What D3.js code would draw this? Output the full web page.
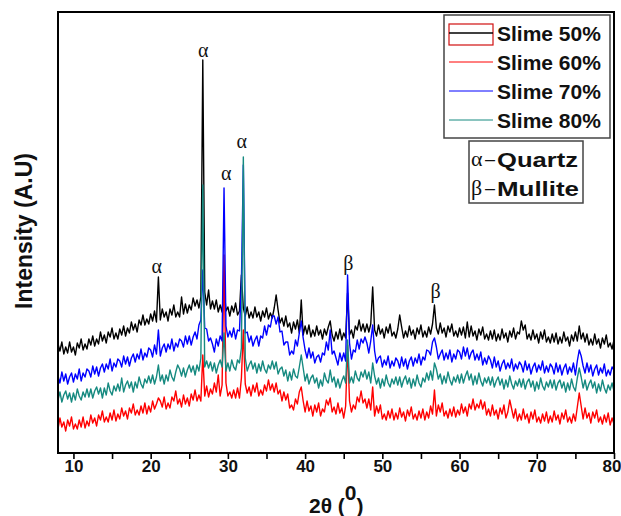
<!DOCTYPE html>
<html>
<head>
<meta charset="utf-8">
<script src="https://cdn.jsdelivr.net/npm/d3@7"></script>
<style>
  body { margin: 0; background: #fff; }
  svg { display: block; font-family: "Liberation Sans", Arial, sans-serif; }
</style>
</head>
<body>
<div class="xrdChart"></div>
<script>
// 2θ sampling of the scans: 8° .. 80°, every 0.25°
var thetaStart = 8;
var thetaStep = 0.25;

// intensities (a.u.), one row per degree (4 samples), last value = 80°
var slime50 = [
  109,102,111,99, 106,100,111,101, 106,98,110,105, 114,103,109,104,
  114,108,117,107, 114,109,121,112, 118,110,121,116, 125,114,120,114,
  124,118,127,117, 125,120,131,123, 129,121,133,128, 138,128,134,129,
  139,132,142,131, 176,133,144,136, 141,132,144,138, 148,136,141,136,
  156,139,149,140, 148,143,155,147, 153,145,156,393, 161,148,163,144,
  152,144,153,141, 148,141,168,142, 146,137,147,141, 150,138,142,178,
  145,137,146,135, 141,135,146,136, 141,132,142,136, 145,134,140,135,
  145,158,143,130, 135,127,137,126, 130,120,131,124, 133,120,153,118,
  127,119,128,116, 123,117,127,118, 123,114,124,118, 126,132,118,112,
  121,114,124,113, 120,115,160,118, 123,115,127,123, 133,122,129,121,
  129,121,129,166, 123,117,128,119, 124,115,126,120, 129,117,121,115,
  124,138,126,115, 122,116,127,118, 123,114,125,119, 128,116,122,116,
  126,119,129,148, 125,119,130,120, 125,116,127,121, 129,117,122,116,
  125,118,126,115, 131,116,127,117, 122,113,124,118, 126,114,119,113,
  122,114,123,112, 119,113,124,115, 120,111,122,116, 125,114,121,119,
  132,123,128,114, 119,113,123,114, 119,110,121,114, 123,111,116,110,
  119,111,120,109, 116,110,121,112, 116,107,118,112, 121,112,127,114,
  120,111,119,108, 114,108,119,109, 114,105,115,109, 118,106,110,104,
  113
];
var slime60 = [
  24,35,26,31, 22,33,27,36, 24,29,24,33, 26,36,25,32,
  27,38,30,35, 27,38,33,42, 31,36,31,40, 33,43,32,39,
  34,45,37,42, 34,45,40,49, 38,43,38,47, 40,50,39,47,
  41,52,44,49, 55,52,46,56, 44,50,45,56, 52,62,49,54,
  46,58,49,55, 47,59,53,63, 52,58,52,98, 57,67,56,64,
  59,70,61,78, 57,68,198,70, 57,61,55,63, 55,65,55,75,
  123,69,60,66, 57,68,61,70, 57,63,58,68, 62,73,63,69,
  61,70,59,63, 52,61,53,59, 45,48,43,54, 49,61,66,52,
  41,52,42,47, 37,48,41,50, 37,44,41,53, 48,55,41,46,
  39,50,40,45, 35,47,108,52, 41,48,44,56, 51,62,50,54,
  45,54,43,66, 37,47,40,48, 34,39,33,42, 35,44,33,40,
  34,45,36,41, 32,43,37,46, 34,39,33,42, 35,44,33,41,
  35,47,39,63, 37,48,41,50, 37,42,35,44, 37,46,36,43,
  38,49,40,46, 37,49,44,54, 43,49,45,53, 44,51,38,44,
  37,48,38,43, 34,45,39,48, 35,41,53,44, 35,44,32,39,
  33,44,34,39, 30,41,34,43, 31,36,30,39, 32,41,30,37,
  31,42,33,38, 29,40,34,43, 31,36,30,39, 32,46,60,47,
  34,45,35,40, 30,41,35,43, 31,36,29,38, 31,40,28,35,
  29
];
var slime70 = [
  77,70,81,72, 79,69,76,80, 71,79,74,84, 72,80,76,84,
  82,76,87,79, 86,77,85,89, 81,89,84,94, 82,90,86,94,
  92,86,97,89, 96,87,95,99, 91,99,94,104, 93,100,96,105,
  103,96,108,99, 123,97,105,109, 101,109,104,114, 102,110,106,114,
  112,106,117,109, 117,108,116,121, 114,128,133,183, 125,124,112,115,
  109,101,114,107, 117,112,265,127, 116,122,116,125, 114,123,122,170,
  288,120,121,111, 117,107,113,117, 107,117,115,127, 118,128,126,137,
  137,129,136,121, 122,108,111,111, 98,102,99,113, 107,120,132,115,
  103,95,105,95, 101,90,96,98, 91,100,98,111, 103,123,99,102,
  95,88,100,92, 100,92,178,110, 94,103,101,113, 104,114,110,116,
  110,100,112,128, 102,90,95,97, 86,93,88,97, 85,92,87,95,
  92,85,96,87, 94,84,92,96, 87,95,90,99, 88,96,93,103,
  102,98,111,115, 106,94,99,103, 93,100,94,103, 91,99,94,103,
  101,94,106,97, 105,94,100,103, 93,99,93,101, 88,95,89,97,
  93,85,96,86, 92,82,89,93, 84,90,85,94, 82,89,84,91,
  88,81,92,83, 89,79,86,90, 81,88,83,92, 80,87,81,89,
  86,79,90,81, 88,78,85,89, 79,86,81,90, 78,92,103,97,
  87,80,90,81, 88,77,84,88, 78,85,80,89, 77,83,78,86,
  83
];
var slime80 = [
  53,61,51,58, 62,54,60,51, 60,53,64,57, 53,61,56,64,
  56,64,55,62, 66,59,65,55, 65,58,70,62, 58,67,62,69,
  62,75,61,68, 72,65,71,61, 71,65,76,69, 65,74,70,77,
  70,78,69,76, 88,72,78,69, 78,72,83,76, 72,81,88,84,
  77,85,76,83, 88,81,87,78, 88,82,95,268, 86,92,85,91,
  82,90,80,88, 93,86,120,82, 90,82,93,86, 83,93,90,105,
  296,95,82,88, 92,84,90,80, 89,82,92,84, 80,88,84,92,
  84,91,79,84, 86,77,83,72, 81,73,84,77, 75,86,98,85,
  72,79,69,75, 78,70,75,65, 73,67,80,73, 70,83,71,76,
  66,74,65,72, 77,70,113,70, 76,70,82,75, 72,81,76,83,
  74,81,70,90, 77,69,75,65, 74,67,78,70, 66,74,69,76,
  68,76,66,73, 77,69,75,65, 74,67,78,70, 66,75,71,80,
  73,82,73,90, 84,74,79,69, 77,70,81,73, 68,76,71,78,
  70,79,70,77, 82,73,79,68, 77,69,80,72, 67,75,70,76,
  68,76,66,72, 76,68,74,64, 73,66,77,69, 64,72,67,74,
  66,74,64,71, 74,66,72,62, 71,64,75,67, 63,71,66,73,
  65,73,63,70, 73,65,71,61, 70,63,74,66, 62,75,85,76,
  65,73,63,69, 73,65,71,60, 69,62,73,65, 60,68,63,70,
  62
];

var seriesNames = ["Slime 50%", "Slime 60%", "Slime 70%", "Slime 80%"];
var seriesColors = ["#000000", "#ff0000", "#0000ff", "#168a80"];

var xTicks = [10, 20, 30, 40, 50, 60, 70, 80];
var xMinorTicks = [15, 25, 35, 45, 55, 65, 75];

// phase markers over the peaks
var peakSymbols = ["α", "α", "α", "α", "β", "β"];
var peakTheta = [20.8, 26.8, 29.8, 31.8, 45.6, 56.9];
var peakLevel = [185, 401, 278, 310, 188, 160];

var phaseSymbols = ["α", "β"];
var phaseNames = ["Quartz", "Mullite"];

// canvas
var width = 621;
var height = 516;
var plot = { left: 58, right: 614, top: 12, bottom: 453 };

var svg = d3
  .select(".xrdChart")
  .append("svg")
  .attr("width", width)
  .attr("height", height)
  .style("background-color", "#fff");

// scales
var xScale = d3.scaleLinear().domain([8, 80]).range([plot.left, plot.right]);
var yScale = d3.scaleLinear().domain([0, 441]).range([plot.bottom, plot.top]);

svg
  .append("clipPath")
  .attr("id", "plotClip")
  .append("rect")
  .attr("x", plot.left)
  .attr("y", plot.top)
  .attr("width", plot.right - plot.left)
  .attr("height", plot.bottom - plot.top);

// scans
var line = d3
  .line()
  .x((d, i) => xScale(thetaStart + i * thetaStep))
  .y((d) => yScale(d));

svg
  .append("g")
  .attr("clip-path", "url(#plotClip)")
  .selectAll("path")
  .data([slime50, slime60, slime70, slime80])
  .enter()
  .append("path")
  .attr("d", line)
  .attr("fill", "none")
  .attr("stroke", (d, i) => seriesColors[i])
  .attr("stroke-width", 1.4)
  .attr("stroke-linejoin", "round");

// frame
svg
  .append("rect")
  .attr("x", plot.left)
  .attr("y", plot.top)
  .attr("width", plot.right - plot.left)
  .attr("height", plot.bottom - plot.top)
  .attr("fill", "none")
  .attr("stroke", "#000")
  .attr("stroke-width", 2);

// x axis (major + minor)
var xAxis = d3
  .axisBottom(xScale)
  .tickValues(xTicks)
  .tickSize(6)
  .tickPadding(1)
  .tickFormat(d3.format("d"));
var gx = svg.append("g").attr("transform", `translate(0, ${plot.bottom})`).call(xAxis);
gx.select(".domain").remove();
gx.selectAll("line").attr("stroke", "#000").attr("stroke-width", 1.6);
gx.selectAll("text")
  .attr("fill", "#111")
  .style("font-size", "17px")
  .style("font-weight", "bold");
// last label sits on the window edge
gx.selectAll("text")
  .filter((d) => d === 80)
  .attr("text-anchor", "end")
  .attr("x", 7);

var xMinor = d3.axisBottom(xScale).tickValues(xMinorTicks).tickSize(6).tickFormat("");
var gxm = svg.append("g").attr("transform", `translate(0, ${plot.bottom})`).call(xMinor);
gxm.select(".domain").remove();
gxm.selectAll("line").attr("stroke", "#000").attr("stroke-width", 1.6);

// axis titles
var xTitle = svg
  .append("text")
  .attr("x", 309)
  .attr("y", 513)
  .attr("fill", "#111")
  .style("font-size", "21px")
  .style("font-weight", "bold");
xTitle.append("tspan").text("2θ (");
xTitle.append("tspan").attr("dy", -13).text("0");
xTitle.append("tspan").attr("dy", 13).text(")");

svg
  .append("text")
  .attr("transform", "translate(32, 231) rotate(-90)")
  .attr("text-anchor", "middle")
  .attr("fill", "#111")
  .style("font-size", "23px")
  .style("font-weight", "bold")
  .text("Intensity (A.U)");

// peak markers
svg
  .append("g")
  .selectAll("text")
  .data(peakSymbols)
  .enter()
  .append("text")
  .attr("x", (d, i) => xScale(peakTheta[i]))
  .attr("y", (d, i) => yScale(peakLevel[i]) + 5)
  .attr("text-anchor", "middle")
  .attr("fill", "#111")
  .style("font-family", "'Liberation Serif', 'Times New Roman', serif")
  .style("font-size", "20px")
  .text((d) => d);

// legend
var legend = svg.append("g");
legend
  .append("rect")
  .attr("x", 444)
  .attr("y", 15)
  .attr("width", 166)
  .attr("height", 123)
  .attr("fill", "#fff")
  .attr("stroke", "#444")
  .attr("stroke-width", 1.5);

var rowY = (i) => 33 + i * 29;
legend
  .append("rect")
  .attr("x", 449)
  .attr("y", 24)
  .attr("width", 44)
  .attr("height", 21)
  .attr("fill", "none")
  .attr("stroke", "#d01010")
  .attr("stroke-width", 1.2);

legend
  .selectAll("line.key")
  .data(seriesNames)
  .enter()
  .append("line")
  .attr("class", "key")
  .attr("x1", 449)
  .attr("x2", 493)
  .attr("y1", (d, i) => rowY(i))
  .attr("y2", (d, i) => rowY(i))
  .attr("stroke", (d, i) => seriesColors[i])
  .attr("stroke-width", (d, i) => (i === 0 ? 1.4 : 1));

legend
  .selectAll("text.name")
  .data(seriesNames)
  .enter()
  .append("text")
  .attr("class", "name")
  .attr("x", 497)
  .attr("y", (d, i) => rowY(i) + 7.5)
  .attr("fill", "#111")
  .style("font-size", "21px")
  .style("font-weight", "bold")
  .text((d) => d);

// phase key
var phaseKey = svg.append("g");
phaseKey
  .append("rect")
  .attr("x", 469)
  .attr("y", 141)
  .attr("width", 114)
  .attr("height", 62)
  .attr("fill", "#fff")
  .attr("stroke", "#444")
  .attr("stroke-width", 1.5);

var phaseRows = phaseKey
  .selectAll("g")
  .data(phaseNames)
  .enter()
  .append("g")
  .attr("transform", (d, i) => `translate(0, ${159 + i * 29})`);

phaseRows
  .append("text")
  .attr("x", 471)
  .attr("y", 7)
  .attr("fill", "#111")
  .style("font-family", "'Liberation Serif', 'Times New Roman', serif")
  .style("font-size", "22px")
  .text((d, i) => phaseSymbols[i]);
phaseRows
  .append("text")
  .attr("x", 485)
  .attr("y", 6)
  .attr("fill", "#111")
  .style("font-size", "18px")
  .text("–");
phaseRows
  .append("text")
  .attr("x", 497)
  .attr("y", 7.5)
  .attr("fill", "#111")
  .attr("textLength", (d, i) => (i === 0 ? 81 : 82))
  .attr("lengthAdjust", "spacingAndGlyphs")
  .style("font-size", "21px")
  .style("font-weight", "bold")
  .text((d) => d);
</script>
</body>
</html>
